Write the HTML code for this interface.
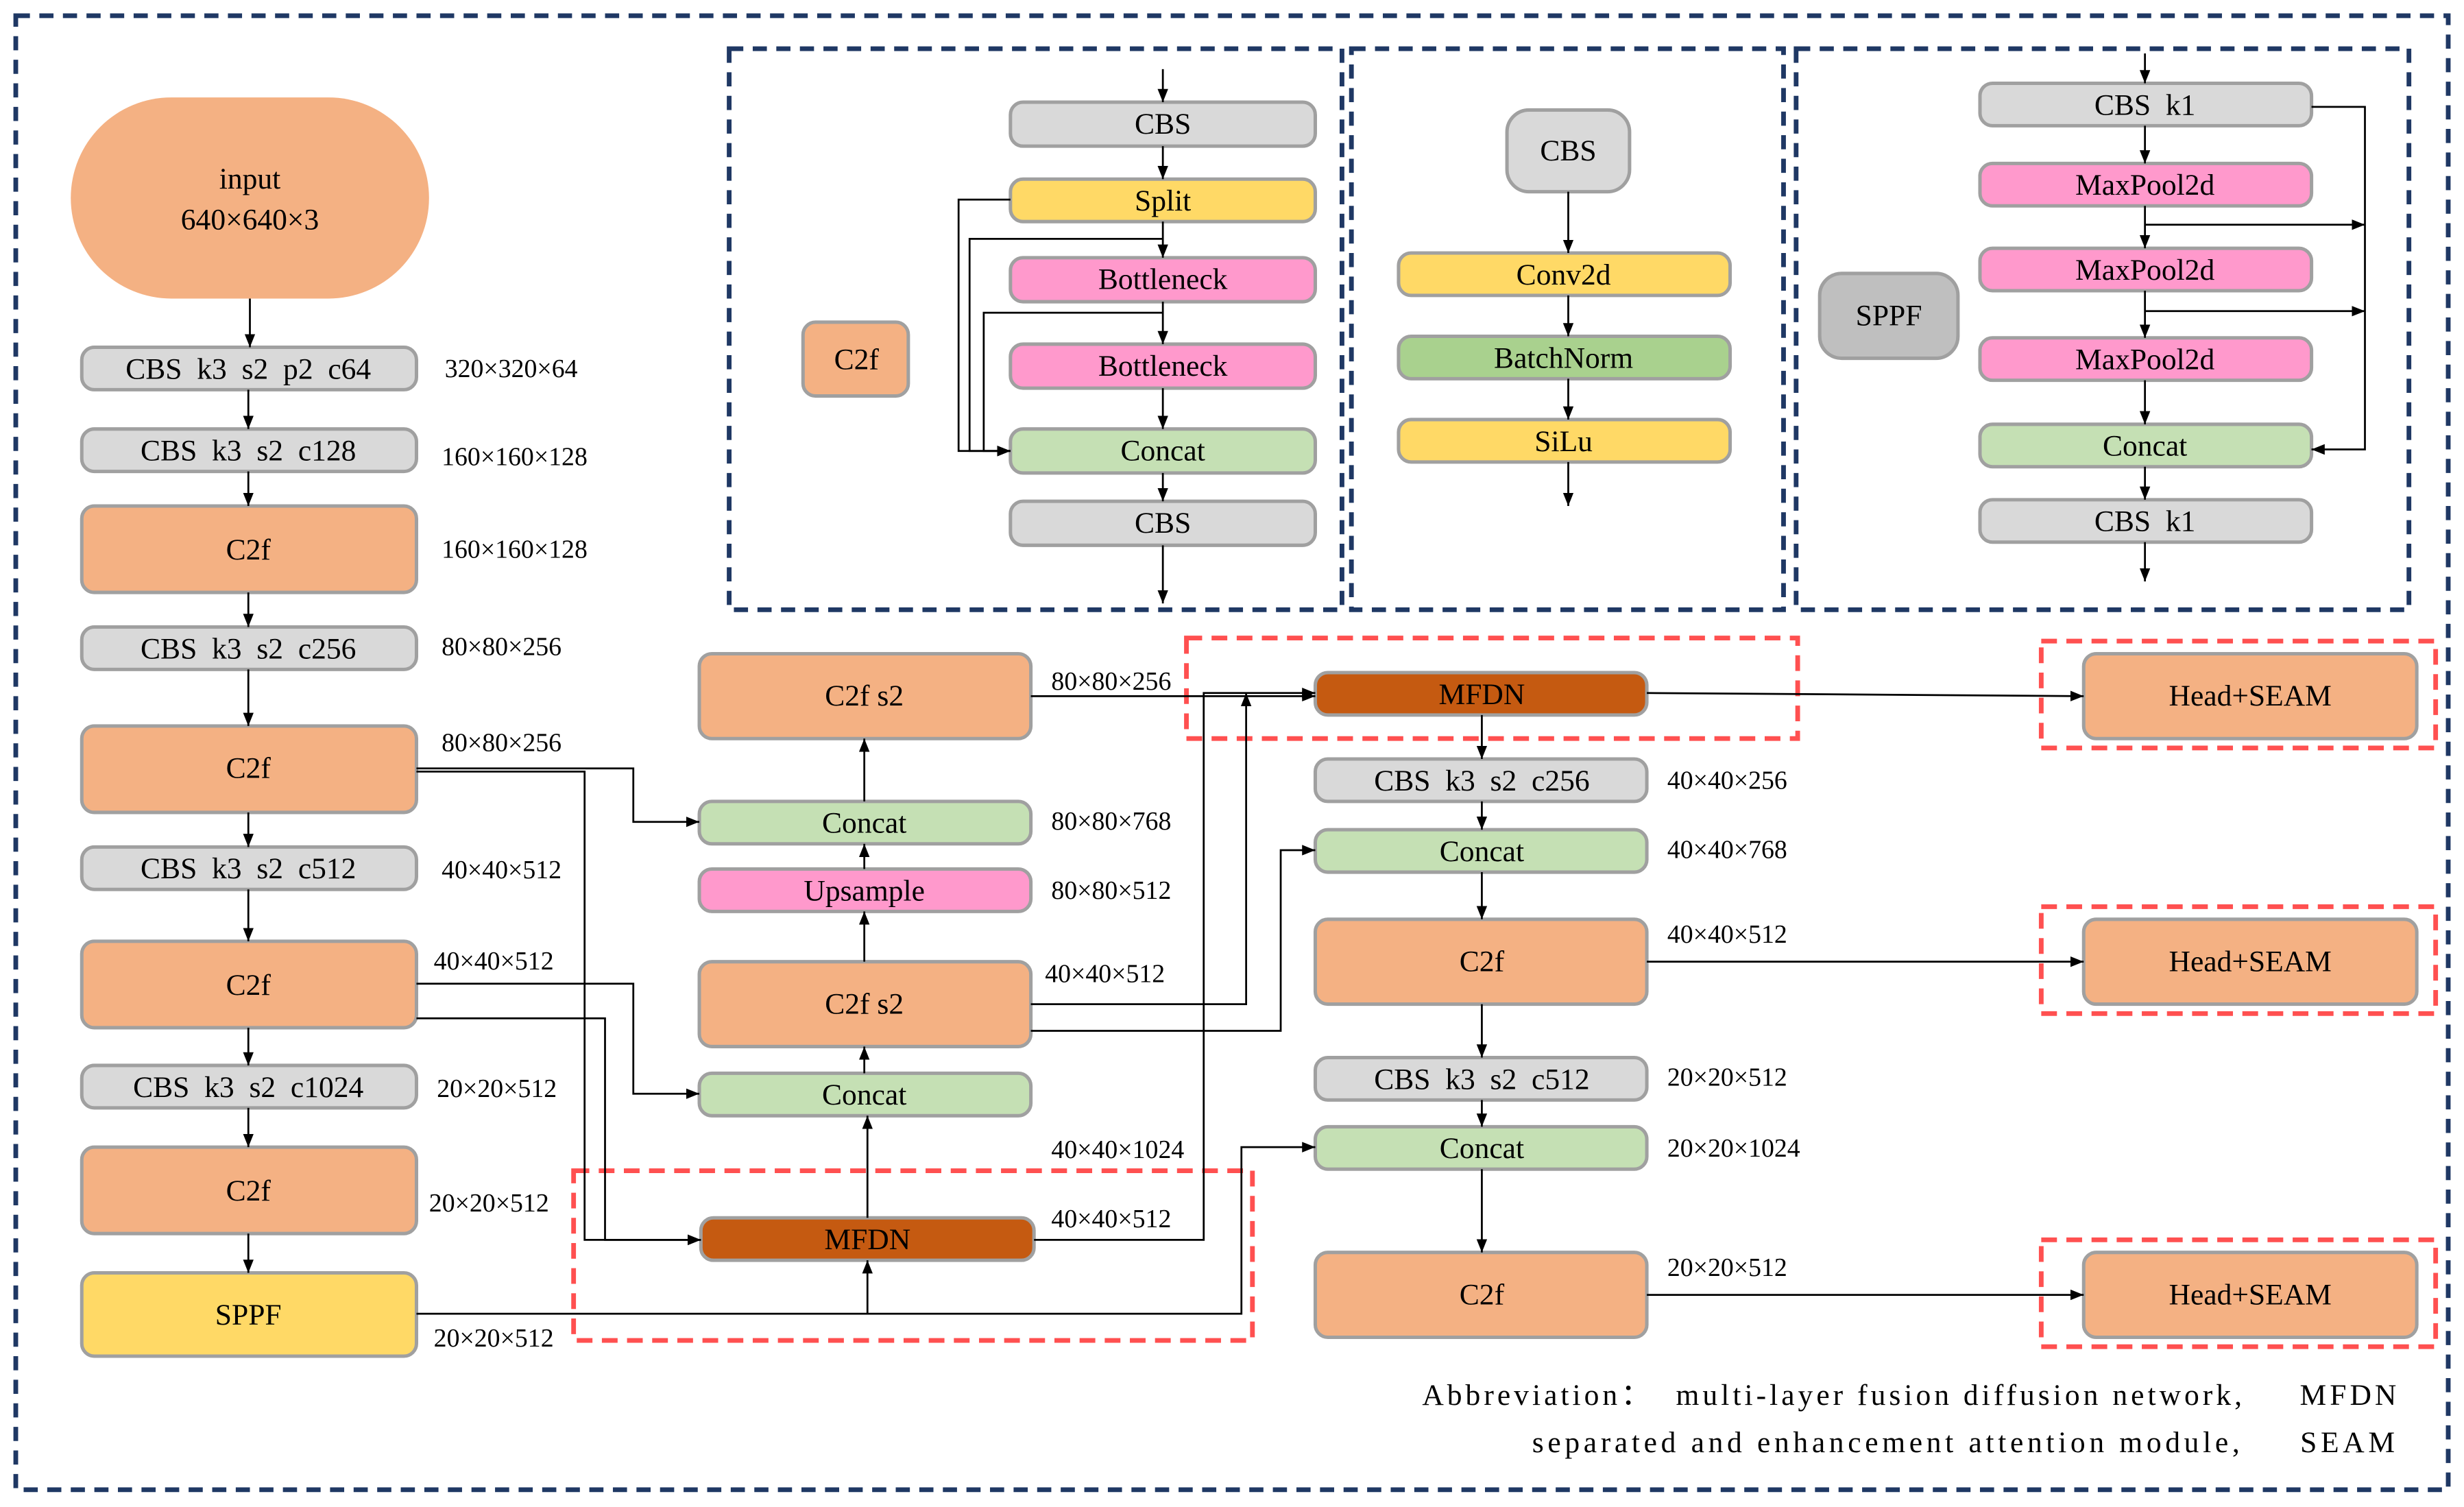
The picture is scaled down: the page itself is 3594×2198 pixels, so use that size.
<!DOCTYPE html>
<html><head><meta charset="utf-8"><style>
html,body{margin:0;padding:0;background:#fff;}
svg{display:block;}
text{font-family:"Liberation Serif","Times New Roman","DejaVu Serif",serif;font-size:19px;fill:#000;white-space:pre;}
.b{stroke:#a0a0a0;stroke-width:2.2;}
.g{fill:#d9d9d9;}.o{fill:#f4b183;}.y{fill:#ffd966;}.p{fill:#ff99cc;}.gr{fill:#c5e0b4;}.gr2{fill:#a9d18e;}.m{fill:#c55a11;}
.l{stroke:#000;stroke-width:1.2;fill:none;}
.nav{stroke:#1f3864;stroke-width:3;fill:none;stroke-dasharray:9 6;}
.red{stroke:#ff5050;stroke-width:3;fill:none;stroke-dasharray:10 6;}
.lab{font-size:16.5px;}
</style></head><body>
<svg width="3594" height="2198" viewBox="0 0 1568 959" xmlns="http://www.w3.org/2000/svg" font-family="Liberation Serif, serif" xml:space="preserve">
<defs><marker id="a" viewBox="0 0 10 10" refX="10" refY="5" markerWidth="7" markerHeight="7" orient="auto-start-reverse"><path d="M0,1 L10,5 L0,9z" fill="#000"/></marker></defs>
<rect x="10" y="10" width="1548" height="938" class="nav"/>
<rect x="464" y="31" width="390" height="357" class="nav"/>
<rect x="860" y="31" width="275" height="357" class="nav"/>
<rect x="1143" y="31" width="390" height="357" class="nav"/>

<rect x="45" y="62" width="228" height="128" rx="64" class="o"/>
<text x="159" y="120" text-anchor="middle" font-size="21">input</text>
<text x="159" y="146" text-anchor="middle" font-size="21">640×640×3</text>
<g text-anchor="middle">
<rect x="52" y="221" width="213" height="27" rx="8" class="g b"/><text x="158" y="241">CBS  k3  s2  p2  c64</text>
<rect x="52" y="273" width="213" height="27" rx="8" class="g b"/><text x="158" y="293">CBS  k3  s2  c128</text>
<rect x="52" y="322" width="213" height="55" rx="8" class="o b"/><text x="158" y="356">C2f</text>
<rect x="52" y="399" width="213" height="27" rx="8" class="g b"/><text x="158" y="419">CBS  k3  s2  c256</text>
<rect x="52" y="462" width="213" height="55" rx="8" class="o b"/><text x="158" y="495">C2f</text>
<rect x="52" y="539" width="213" height="27" rx="8" class="g b"/><text x="158" y="559">CBS  k3  s2  c512</text>
<rect x="52" y="599" width="213" height="55" rx="8" class="o b"/><text x="158" y="633">C2f</text>
<rect x="52" y="678" width="213" height="27" rx="8" class="g b"/><text x="158" y="698">CBS  k3  s2  c1024</text>
<rect x="52" y="730" width="213" height="55" rx="8" class="o b"/><text x="158" y="764">C2f</text>
<rect x="52" y="810" width="213" height="53" rx="8" class="y b"/><text x="158" y="843">SPPF</text>

<rect x="445" y="416" width="211" height="54" rx="8" class="o b"/><text x="550" y="449">C2f s2</text>
<rect x="445" y="510" width="211" height="27" rx="8" class="gr b"/><text x="550" y="530">Concat</text>
<rect x="445" y="553" width="211" height="27" rx="8" class="p b"/><text x="550" y="573">Upsample</text>
<rect x="445" y="612" width="211" height="54" rx="8" class="o b"/><text x="550" y="645">C2f s2</text>
<rect x="445" y="683" width="211" height="27" rx="8" class="gr b"/><text x="550" y="703">Concat</text>
<rect x="446" y="775" width="212" height="27" rx="8" class="m b"/><text x="552" y="795">MFDN</text>

<rect x="837" y="428" width="211" height="27" rx="8" class="m b"/><text x="943" y="448">MFDN</text>
<rect x="837" y="483" width="211" height="27" rx="8" class="g b"/><text x="943" y="503">CBS  k3  s2  c256</text>
<rect x="837" y="528" width="211" height="27" rx="8" class="gr b"/><text x="943" y="548">Concat</text>
<rect x="837" y="585" width="211" height="54" rx="8" class="o b"/><text x="943" y="618">C2f</text>
<rect x="837" y="673" width="211" height="27" rx="8" class="g b"/><text x="943" y="693">CBS  k3  s2  c512</text>
<rect x="837" y="717" width="211" height="27" rx="8" class="gr b"/><text x="943" y="737">Concat</text>
<rect x="837" y="797" width="211" height="54" rx="8" class="o b"/><text x="943" y="830">C2f</text>

<rect x="1326" y="416" width="212" height="54" rx="8" class="o b"/><text x="1432" y="449">Head+SEAM</text>
<rect x="1326" y="585" width="212" height="54" rx="8" class="o b"/><text x="1432" y="618">Head+SEAM</text>
<rect x="1326" y="797" width="212" height="54" rx="8" class="o b"/><text x="1432" y="830">Head+SEAM</text>

<rect x="511" y="205" width="67" height="47" rx="8" class="o b"/><text x="545" y="235">C2f</text>
<rect x="643" y="65" width="194" height="28" rx="8" class="g b"/><text x="740" y="85">CBS</text>
<rect x="643" y="114" width="194" height="27" rx="8" class="y b"/><text x="740" y="134">Split</text>
<rect x="643" y="164" width="194" height="28" rx="8" class="p b"/><text x="740" y="184">Bottleneck</text>
<rect x="643" y="219" width="194" height="28" rx="8" class="p b"/><text x="740" y="239">Bottleneck</text>
<rect x="643" y="273" width="194" height="28" rx="8" class="gr b"/><text x="740" y="293">Concat</text>
<rect x="643" y="319" width="194" height="28" rx="8" class="g b"/><text x="740" y="339">CBS</text>
<rect x="959" y="70" width="78" height="52" rx="14" class="g b"/><text x="998" y="102">CBS</text>
<rect x="890" y="161" width="211" height="27" rx="8" class="y b"/><text x="995" y="181">Conv2d</text>
<rect x="890" y="214" width="211" height="27" rx="8" class="gr2 b"/><text x="995" y="234">BatchNorm</text>
<rect x="890" y="267" width="211" height="27" rx="8" class="y b"/><text x="995" y="287">SiLu</text>
<rect x="1158" y="174" width="88" height="54" rx="14" fill="#bfbfbf" class="b"/><text x="1202" y="207">SPPF</text>
<rect x="1260" y="53" width="211" height="27" rx="8" class="g b"/><text x="1365" y="73">CBS  k1</text>
<rect x="1260" y="104" width="211" height="27" rx="8" class="p b"/><text x="1365" y="124">MaxPool2d</text>
<rect x="1260" y="158" width="211" height="27" rx="8" class="p b"/><text x="1365" y="178">MaxPool2d</text>
<rect x="1260" y="215" width="211" height="27" rx="8" class="p b"/><text x="1365" y="235">MaxPool2d</text>
<rect x="1260" y="270" width="211" height="27" rx="8" class="gr b"/><text x="1365" y="290">Concat</text>
<rect x="1260" y="318" width="211" height="27" rx="8" class="g b"/><text x="1365" y="338">CBS  k1</text>
</g>

<g>
<text x="283" y="240" class="lab">320×320×64</text>
<text x="281" y="296" class="lab">160×160×128</text>
<text x="281" y="355" class="lab">160×160×128</text>
<text x="281" y="417" class="lab">80×80×256</text>
<text x="281" y="478" class="lab">80×80×256</text>
<text x="281" y="559" class="lab">40×40×512</text>
<text x="276" y="617" class="lab">40×40×512</text>
<text x="278" y="698" class="lab">20×20×512</text>
<text x="273" y="771" class="lab">20×20×512</text>
<text x="276" y="857" class="lab">20×20×512</text>
<text x="669" y="439" class="lab">80×80×256</text>
<text x="669" y="528" class="lab">80×80×768</text>
<text x="669" y="572" class="lab">80×80×512</text>
<text x="665" y="625" class="lab">40×40×512</text>
<text x="669" y="737" class="lab">40×40×1024</text>
<text x="669" y="781" class="lab">40×40×512</text>
<text x="1061" y="502" class="lab">40×40×256</text>
<text x="1061" y="546" class="lab">40×40×768</text>
<text x="1061" y="600" class="lab">40×40×512</text>
<text x="1061" y="691" class="lab">20×20×512</text>
<text x="1061" y="736" class="lab">20×20×1024</text>
<text x="1061" y="812" class="lab">20×20×512</text>
</g>

<rect x="755" y="406" width="389" height="64" class="red"/>
<rect x="365" y="745" width="432" height="108" class="red"/>
<rect x="1299" y="408" width="251" height="68" class="red"/>
<rect x="1299" y="577" width="251" height="68" class="red"/>
<rect x="1299" y="789" width="251" height="68" class="red"/>

<g class="l" marker-end="url(#a)">
<path d="M159 190V221"/><path d="M158 248V273"/><path d="M158 300V322"/><path d="M158 377V399"/><path d="M158 426V462"/><path d="M158 517V539"/><path d="M158 566V599"/><path d="M158 654V678"/><path d="M158 705V730"/><path d="M158 785V810"/>
<path d="M265 489H403V523H445"/>
<path d="M265 491H372V789H446"/>
<path d="M265 626H403V696H445"/>
<path d="M265 648H385V789H446"/>
<path d="M265 836H790V730H837"/>
<path d="M552 836V802"/>
<path d="M552 775V710"/>
<path d="M550 683V666"/><path d="M550 612V580"/><path d="M550 553V537"/><path d="M550 510V470"/>
<path d="M656 443H837"/>
<path d="M658 789H766V441H837"/>
<path d="M656 639H793V441"/>
<path d="M656 656H815V541H837"/>
<path d="M943 455V483"/><path d="M943 510V528"/><path d="M943 555V585"/><path d="M943 639V673"/><path d="M943 700V717"/><path d="M943 744V797"/>
<path d="M1048 441L1326 443"/><path d="M1048 612H1326"/><path d="M1048 824H1326"/>
<path d="M740 44V65"/><path d="M740 93V114"/><path d="M740 141V164"/><path d="M740 192V219"/><path d="M740 247V273"/><path d="M740 301V319"/><path d="M740 347V384"/>
<path d="M643 127H610V287H643"/>
<path d="M740 152H617V287H643"/>
<path d="M740 199H626V287H643"/>
<path d="M998 122V161"/><path d="M998 188V214"/><path d="M998 241V267"/><path d="M998 294V322"/>
<path d="M1365 34V53"/><path d="M1365 80V104"/><path d="M1365 131V158"/><path d="M1365 185V215"/><path d="M1365 242V270"/><path d="M1365 297V318"/><path d="M1365 345V370"/>
<path d="M1471 68H1505V286H1471"/>
<path d="M1365 143H1505"/><path d="M1365 198H1505"/>
</g>

<text x="905" y="894" font-size="22" textLength="620" lengthAdjust="spacing">Abbreviation：  multi-layer fusion diffusion network,     MFDN</text>
<text x="975" y="924" font-size="22" textLength="549" lengthAdjust="spacing">separated and enhancement attention module,     SEAM</text>
</svg>
</body></html>
